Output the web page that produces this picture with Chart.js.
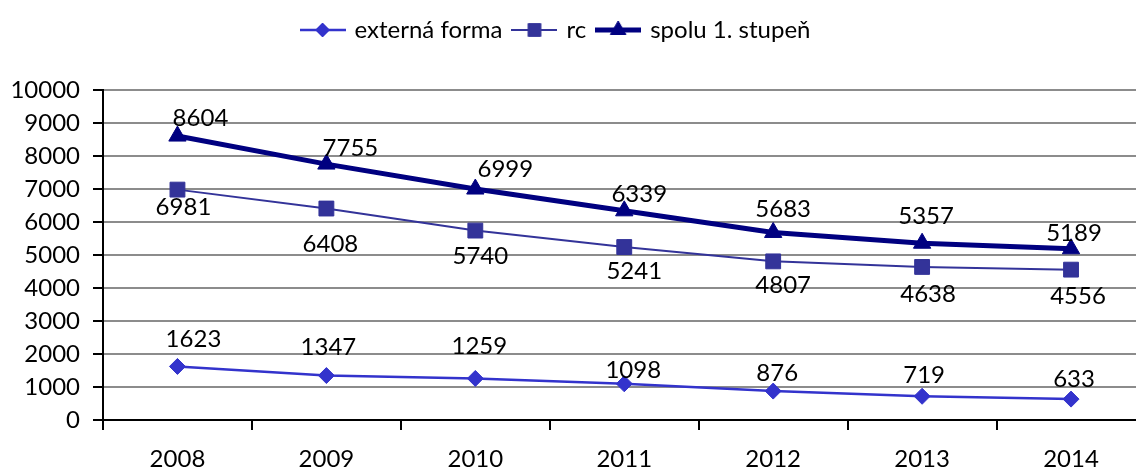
<!DOCTYPE html>
<html>
<head>
<meta charset="utf-8">
<script src="https://cdn.jsdelivr.net/npm/chart.js@4.4.0/dist/chart.umd.min.js"></script>
<style>
  html, body { margin: 0; padding: 0; background: #fff; overflow: hidden; }
  #chart { display: block; }
</style>
</head>
<body>
<canvas id="chart" width="1157" height="470"></canvas>
<script>
// data
const years = ['2008', '2009', '2010', '2011', '2012', '2013', '2014'];
const externaForma = [1623, 1347, 1259, 1098, 876, 719, 633];
const rc = [6981, 6408, 5740, 5241, 4807, 4638, 4556];
const spolu = [8604, 7755, 6999, 6339, 5683, 5357, 5189];
const yMax = 10000;
const yStep = 1000;

// hand-placed value labels: pixel nudges from each point (baseline of the text)
const labelNudges = [
  { dx: [16, 2, 4, 9, 4, 2, 3], dy: [-19, -21, -24, -6, -10, -13, -12] },
  { dx: [6, 4, 5, 10, 10, 6, 7], dy: [25, 43, 33, 32, 32, 35, 34] },
  { dx: [23, 24, 30, 15, 10, 4, 3], dy: [-10, -8, -12, -9, -15, -19, -8] }
];

const FONT = 'Lato';
const FONT_SIZE = 24;

function legendIcon(color, lineWidth, style, radius) {
  const c = document.createElement('canvas');
  c.width = 46;
  c.height = 22;
  const g = c.getContext('2d');
  g.strokeStyle = color;
  g.fillStyle = color;
  g.lineWidth = lineWidth;
  g.beginPath();
  g.moveTo(0, 11);
  g.lineTo(46, 11);
  g.stroke();
  g.lineWidth = 1;
  Chart.helpers.drawPoint(g, { pointStyle: style, radius: radius, borderWidth: 1, rotation: 0 }, 23, 11);
  return c;
}

const icons = [
  legendIcon('#3333CC', 2.5, 'rectRot', 7),
  legendIcon('#333399', 2, 'rect', 9),
  legendIcon('#000080', 5, 'triangle', 9)
];

// draws the numbers next to every point
const valueLabels = {
  id: 'valueLabels',
  afterDatasetsDraw(chart) {
    const ctx = chart.ctx;
    ctx.save();
    ctx.font = FONT_SIZE + 'px ' + FONT;
    ctx.fillStyle = '#000';
    ctx.textAlign = 'center';
    ctx.textBaseline = 'alphabetic';
    chart.data.datasets.forEach((ds, di) => {
      const meta = chart.getDatasetMeta(di);
      const nudge = labelNudges[di];
      meta.data.forEach((pt, i) => {
        ctx.fillText(String(ds.data[i]), pt.x + nudge.dx[i], pt.y + nudge.dy[i]);
      });
    });
    ctx.restore();
  }
};

// taller legend box so the plot starts lower, and legend a bit left of centre
const legendTweaks = {
  id: 'legendTweaks',
  afterInit(chart) {
    const legend = chart.legend;
    if (!legend) return;
    const fit = legend.fit;
    legend.fit = function () {
      fit.call(this);
      this.height = 84;
    };
    const draw = legend.draw;
    legend.draw = function (area) {
      chart.ctx.save();
      chart.ctx.translate(-22, 0);
      draw.call(this, area);
      chart.ctx.restore();
    };
  }
};

const ctx = document.getElementById('chart').getContext('2d');

new Chart(ctx, {
  type: 'line',
  data: {
    labels: years,
    datasets: [
      {
        label: 'externá forma',
        data: externaForma,
        borderColor: '#3333CC',
        backgroundColor: '#3333CC',
        borderWidth: 2.5,
        pointStyle: 'rectRot',
        pointRadius: 8,
        pointBorderWidth: 1,
        tension: 0
      },
      {
        label: 'rc',
        data: rc,
        borderColor: '#333399',
        backgroundColor: '#333399',
        borderWidth: 2,
        pointStyle: 'rect',
        pointRadius: 10.5,
        pointBorderWidth: 1,
        tension: 0
      },
      {
        label: 'spolu 1. stupeň',
        data: spolu,
        borderColor: '#000080',
        backgroundColor: '#000080',
        borderWidth: 5,
        pointStyle: 'triangle',
        pointRadius: 10,
        pointBorderWidth: 1,
        tension: 0
      }
    ]
  },
  options: {
    responsive: false,
    animation: false,
    layout: { padding: { top: 6, left: 0, right: 0, bottom: 0 } },
    plugins: {
      tooltip: { enabled: false },
      legend: {
        position: 'top',
        align: 'center',
        labels: {
          color: '#000',
          font: { family: FONT, size: FONT_SIZE },
          usePointStyle: true,
          pointStyleWidth: 40,
          padding: 12,
          generateLabels(chart) {
            const items = Chart.defaults.plugins.legend.labels.generateLabels(chart);
            items.forEach((it, i) => { it.pointStyle = icons[i]; });
            return items;
          }
        }
      }
    },
    scales: {
      x: {
        offset: true,
        grid: {
          offset: true,
          drawOnChartArea: false,
          drawTicks: true,
          tickLength: 10,
          tickColor: '#000',
          lineWidth: 2
        },
        border: { color: '#000', width: 2 },
        ticks: { color: '#000', font: { family: FONT, size: FONT_SIZE }, padding: 15 },
        afterFit(scale) { scale.height = 50; }
      },
      y: {
        min: 0,
        max: yMax,
        ticks: {
          stepSize: yStep,
          color: '#000',
          font: { family: FONT, size: FONT_SIZE },
          padding: 13,
          callback: v => String(v)
        },
        grid: { color: '#8c8c8c', lineWidth: 2, tickColor: '#000', tickLength: 10 },
        border: { color: '#000', width: 2 },
        afterFit(scale) { scale.width = 103; }
      }
    }
  },
  plugins: [valueLabels, legendTweaks]
});
</script>
</body>
</html>
